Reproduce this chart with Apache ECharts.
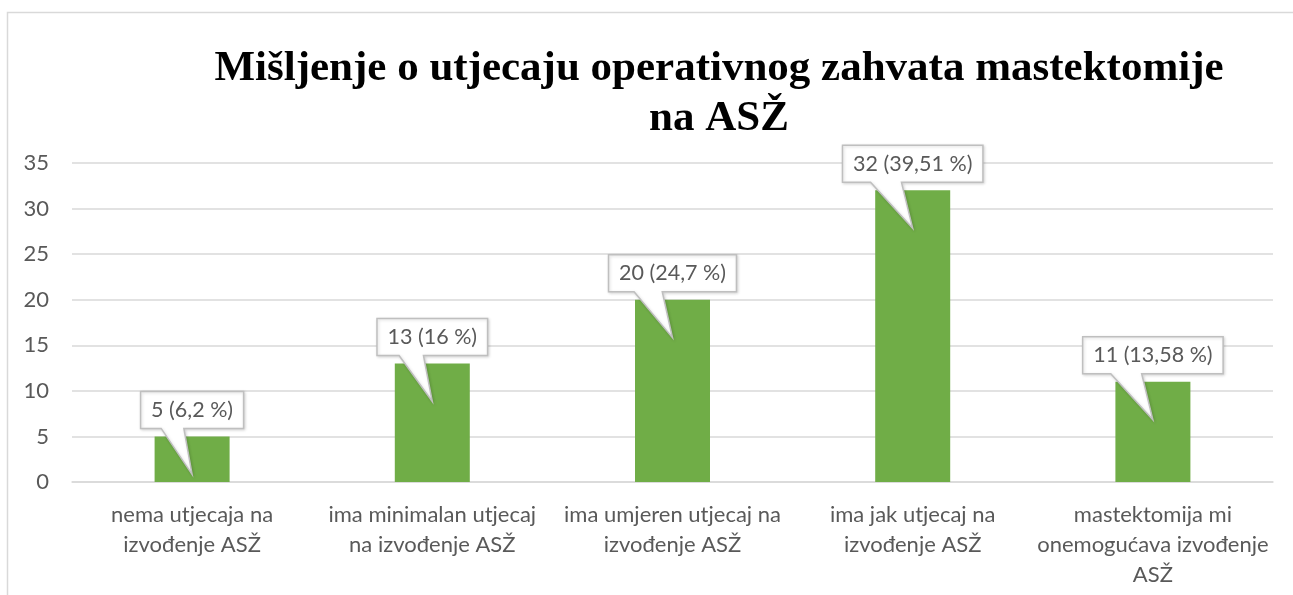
<!DOCTYPE html>
<html>
<head>
<meta charset="utf-8">
<script src="https://cdn.jsdelivr.net/npm/echarts@6/dist/echarts.min.js"></script>
<style>
html,body{margin:0;padding:0;background:#fff;}
#chart{width:1293px;height:595px;}
</style>
</head>
<body>
<div id="chart"></div>
<script>
const categories = [
  "nema utjecaja na\nizvođenje ASŽ",
  "ima minimalan utjecaj\nna izvođenje ASŽ",
  "ima umjeren utjecaj na\nizvođenje ASŽ",
  "ima jak utjecaj na\nizvođenje ASŽ",
  "mastektomija mi\nonemogućava izvođenje\nASŽ"
];
const counts = [5, 13, 20, 32, 11];
const percents = ["6,2", "16", "24,7", "39,51", "13,58"];
const titleLines = ["Mišljenje o utjecaju operativnog zahvata mastektomije", "na ASŽ"];

const labelFont = '21.5px Lato';
const labelColor = '#595959';
const calloutTexts = counts.map((c, i) => c + ' (' + percents[i] + ' %)');

const mctx = document.createElement('canvas').getContext('2d');
mctx.font = labelFont;
const textWidths = calloutTexts.map(t => mctx.measureText(t).width);

const chart = echarts.init(document.getElementById('chart'), null, {renderer: 'canvas'});

const option = {
  animation: false,
  backgroundColor: '#fff',
  grid: {left: 72, right: 20, top: 163, bottom: 113},
  graphic: [
    {type: 'rect', shape: {x: 7.5, y: 12.5, width: 1300, height: 600}, style: {fill: 'none', stroke: '#d9d9d9', lineWidth: 1.5}, z: -10, silent: true},
    {type: 'text', x: 719, y: 44, style: {text: titleLines.join('\n'), font: 'bold 43px "Liberation Serif"', fill: '#000', textAlign: 'center', lineHeight: 50}}
  ],
  xAxis: {
    type: 'category',
    data: categories,
    axisTick: {show: false},
    axisLine: {lineStyle: {color: '#d9d9d9', width: 1.5}},
    axisLabel: {interval: 0, color: labelColor, fontSize: 22, fontFamily: 'Lato', lineHeight: 30, margin: 18}
  },
  yAxis: {
    type: 'value',
    min: 0, max: 35, interval: 5,
    axisLine: {show: false},
    axisTick: {show: false},
    splitLine: {lineStyle: {color: '#d9d9d9', width: 1.5}},
    axisLabel: {color: labelColor, fontSize: 22, fontFamily: 'Lato', margin: 23}
  },
  series: [
    {
      type: 'bar',
      data: counts,
      barWidth: 75,
      itemStyle: {color: '#70ad47'},
      z: 2
    },
    {
      type: 'custom',
      data: counts.map((c, i) => [i, c]),
      clip: false,
      z: 5,
      renderItem: function (params, api) {
        const i = params.dataIndex;
        const p = api.coord([api.value(0), api.value(1)]);
        const cx = p[0], ty = p[1];
        const w = textWidths[i] + 21;
        const h = 37;
        const L = cx - w / 2, R = cx + w / 2;
        const B = ty - 8, T = B - h;
        const tl = L + 0.2 * w, tr = L + 0.42 * w;
        const tip = [cx, ty + 38];
        return {
          type: 'group',
          children: [
            {type: 'polygon', shape: {points: [[L, T], [R, T], [R, B], [tr, B], tip, [tl, B], [L, B]]},
             style: {fill: '#fff', stroke: '#bfbfbf', lineWidth: 1.5,
                     shadowColor: 'rgba(0,0,0,0.15)', shadowBlur: 3, shadowOffsetX: 1, shadowOffsetY: 1}},
            {type: 'text', x: cx, y: (T + B) / 2,
             style: {text: calloutTexts[i], font: labelFont, fill: labelColor, textAlign: 'center', textVerticalAlign: 'middle'}}
          ]
        };
      }
    }
  ]
};
chart.setOption(option);
</script>
</body>
</html>
